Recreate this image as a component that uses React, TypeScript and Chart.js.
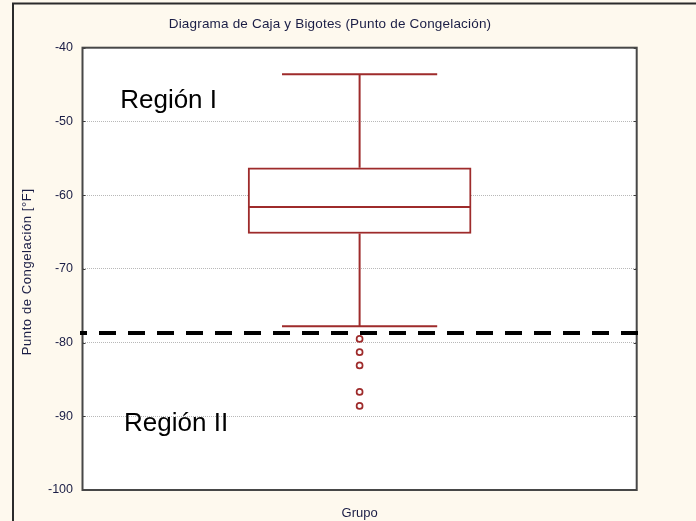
import { useEffect, useRef } from 'react';
import { Chart, registerables } from 'chart.js';

Chart.register(...registerables);

// ---- data ----
const chartTitle = 'Diagrama de Caja y Bigotes (Punto de Congelación)';
const yAxisTitle = 'Punto de Congelación [°F]';
const xAxisTitle = 'Grupo';
const yTickValues = [-40, -50, -60, -70, -80, -90, -100];
// [whisker low, Q1, median, Q3, whisker high]
const boxSummary = [-77.8, -65.2, -61.6, -56.3, -43.6];
const outlierValues = [-79.5, -81.3, -83.1, -86.7, -88.6];
const thresholdValue = -78.7;
const regionNames = ['Región I', 'Región II'];

// ---- layout / style ----
const W = 696;
const H = 521;
const GROUP_X = 1;
const BOX_HALF = 0.4;
const CAP_HALF = 0.28;
const RED = '#9e2b2b';
const CREAM = '#fef9ee';
const TEXT = '#1a1d45';
const FONT = '"Liberation Sans", Arial, sans-serif';

const framePlugin = {
  id: 'frame',
  beforeDraw(chart: any) {
    const { ctx, chartArea: a } = chart;
    ctx.save();
    ctx.fillStyle = CREAM;
    ctx.fillRect(0, 0, W, H);
    ctx.fillStyle = '#ffffff';
    ctx.fillRect(a.left, a.top, a.right - a.left, a.bottom - a.top);
    // outer frame (left and top edges)
    ctx.strokeStyle = '#2b2b2b';
    ctx.lineWidth = 2;
    ctx.beginPath();
    ctx.moveTo(13, H);
    ctx.lineTo(13, 3.5);
    ctx.lineTo(W, 3.5);
    ctx.stroke();
    ctx.restore();
  },
  beforeDatasetsDraw(chart: any) {
    const { ctx, chartArea: a, scales } = chart;
    ctx.save();
    // inward tick marks on both sides
    ctx.strokeStyle = '#3a3a3a';
    ctx.lineWidth = 1;
    ctx.beginPath();
    yTickValues.forEach((v) => {
      const y = Math.round(scales.y.getPixelForValue(v)) + 0.5;
      ctx.moveTo(a.left, y);
      ctx.lineTo(a.left + 3, y);
      ctx.moveTo(a.right - 3, y);
      ctx.lineTo(a.right, y);
    });
    ctx.stroke();
    // plot frame
    ctx.strokeStyle = '#474747';
    ctx.lineWidth = 2;
    ctx.strokeRect(a.left, a.top, a.right - a.left, a.bottom - a.top);
    ctx.restore();
  },
  afterDraw(chart: any) {
    const { ctx, chartArea: a, scales } = chart;
    ctx.save();
    ctx.fillStyle = TEXT;
    ctx.textBaseline = 'alphabetic';
    // chart title
    ctx.font = `13.5px ${FONT}`;
    ctx.letterSpacing = '0.18px';
    ctx.textAlign = 'center';
    ctx.fillText(chartTitle, 330, 27.7);
    // y axis title
    ctx.translate(31, (a.top + a.bottom) / 2 + 3);
    ctx.rotate(-Math.PI / 2);
    ctx.font = `13px ${FONT}`;
    ctx.letterSpacing = '0.6px';
    ctx.fillText(yAxisTitle, 0, 0);
    ctx.restore();

    // region labels
    ctx.save();
    ctx.fillStyle = '#000000';
    ctx.font = `26px ${FONT}`;
    ctx.textAlign = 'left';
    ctx.textBaseline = 'alphabetic';
    ctx.fillText(regionNames[0], scales.x.getPixelForValue(0.136), scales.y.getPixelForValue(-48.2));
    ctx.fillText(regionNames[1], scales.x.getPixelForValue(0.15), scales.y.getPixelForValue(-91.95));
    ctx.restore();
  },
};

export default function App() {
  const ref = useRef<HTMLCanvasElement>(null);

  useEffect(() => {
    if (!ref.current) return;
    const [wLow, q1, med, q3, wHigh] = boxSummary;
    const lineBase = {
      type: 'line' as const,
      borderColor: RED,
      borderWidth: 2,
      pointRadius: 0,
      showLine: true,
      spanGaps: false,
      fill: false,
    };

    const chart = new Chart(ref.current, {
      type: 'scatter',
      data: {
        datasets: [
          {
            type: 'bar',
            label: 'caja',
            data: [{ x: GROUP_X, y: [q1, q3] }] as any,
            backgroundColor: '#ffffff',
            borderColor: RED,
            borderWidth: 2,
            borderSkipped: false,
            barThickness: 223,
            order: 3,
          } as any,
          {
            ...lineBase,
            label: 'mediana',
            data: [
              { x: GROUP_X - BOX_HALF, y: med },
              { x: GROUP_X + BOX_HALF, y: med },
            ],
            order: 2,
          },
          {
            ...lineBase,
            label: 'bigotes',
            data: [
              { x: GROUP_X, y: q3 },
              { x: GROUP_X, y: wHigh },
              { x: GROUP_X, y: null },
              { x: GROUP_X - CAP_HALF, y: wHigh },
              { x: GROUP_X + CAP_HALF, y: wHigh },
              { x: GROUP_X, y: null },
              { x: GROUP_X, y: q1 },
              { x: GROUP_X, y: wLow },
              { x: GROUP_X, y: null },
              { x: GROUP_X - CAP_HALF, y: wLow },
              { x: GROUP_X + CAP_HALF, y: wLow },
            ] as any,
            order: 2,
          },
          {
            ...lineBase,
            label: 'límite',
            borderColor: '#000000',
            borderWidth: 4,
            borderDash: [17, 12],
            borderDashOffset: 10,
            borderCapStyle: 'butt',
            clip: false as any,
            data: [
              { x: -0.009, y: thresholdValue },
              { x: 2.005, y: thresholdValue },
            ],
            order: 1,
          },
          {
            type: 'scatter',
            label: 'atípicos',
            data: outlierValues.map((v) => ({ x: GROUP_X, y: v })),
            pointStyle: 'circle',
            pointRadius: 3,
            pointBorderWidth: 1.7,
            pointBackgroundColor: '#ffffff',
            pointBorderColor: RED,
            order: 0,
          },
        ],
      },
      options: {
        animation: false,
        responsive: false,
        devicePixelRatio: 1,
        layout: { padding: { left: 0, top: 47.7, right: 59.3, bottom: 0 } },
        plugins: {
          legend: { display: false },
          tooltip: { enabled: false },
          title: { display: false },
        },
        font: { family: FONT } as any,
        scales: {
          x: {
            type: 'linear',
            min: 0,
            max: 2,
            offset: false,
            grid: { display: false, offset: false },
            border: { display: false },
            ticks: { display: false },
            title: {
              display: true,
              text: xAxisTitle,
              color: TEXT,
              font: { family: FONT, size: 13 },
              padding: { top: 8.5, bottom: 0 },
            },
            afterFit(scale: any) {
              scale.height = H - 490;
            },
          },
          y: {
            type: 'linear',
            min: -100,
            max: -40,
            afterBuildTicks(scale: any) {
              scale.ticks = yTickValues.map((v) => ({ value: v }));
            },
            ticks: {
              color: TEXT,
              font: { family: FONT, size: 12.5 },
              padding: 9.5,
              callback: (v: any) => String(v),
            },
            grid: {
              color: '#b8b8b8',
              lineWidth: 1,
              drawTicks: false,
            },
            border: { display: false, dash: [1, 1] },
            afterFit(scale: any) {
              scale.width = 82.5;
            },
          },
        },
      },
      plugins: [framePlugin],
    });

    return () => chart.destroy();
  }, []);

  return (
    <div style={{ position: 'fixed', left: 0, top: 0, width: W, height: H, background: CREAM }}>
      <canvas ref={ref} width={W} height={H} style={{ display: 'block', width: W, height: H }} />
    </div>
  );
}
